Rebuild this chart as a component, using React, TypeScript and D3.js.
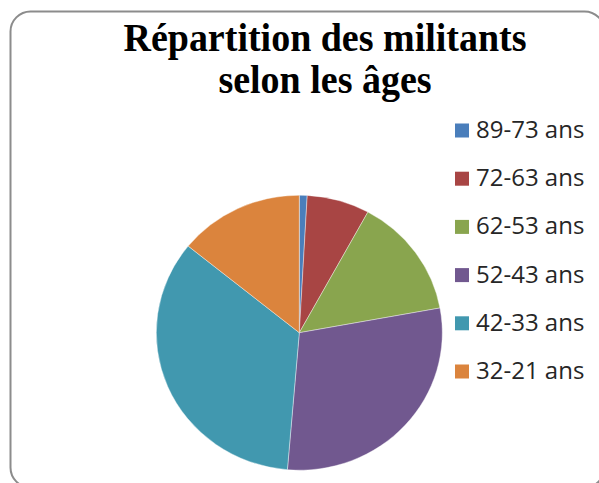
import React from "react";
import * as d3 from "d3";

const categories = ["89-73 ans", "72-63 ans", "62-53 ans", "52-43 ans", "42-33 ans", "32-21 ans"];
const values = [1, 8, 16, 33, 39, 16];
const colors = ["#4A7EBB", "#A84544", "#89A54E", "#71588F", "#4198AF", "#DB843D"];
const titleLines = ["Répartition des militants", "selon les âges"];

export default function App() {
  const W = 599, H = 483;
  const cx = 299.3, cy = 332.7, rx = 143, ry = 137.5;
  const pie = d3.pie<number>().sort(null).value((d) => d);
  const arcs = pie(values);
  const arc = d3.arc<d3.PieArcDatum<number>>().innerRadius(0).outerRadius(rx);
  const legendY = d3.scaleBand<string>().domain(categories).range([106.4, 395.6]);
  return (
    <svg width={W} height={H} style={{ position: "absolute", left: 0, top: 0, background: "#fff" }}>
      <rect x={10.5} y={11.5} width={594} height={476} rx={20} ry={20} fill="#fff" stroke="#8c8c8c" strokeWidth={2} />
      {titleLines.map((t, i) => (
        <text key={t} x={325} y={0} textAnchor="middle"
          transform={`translate(0,${51 + i * 42}) scale(1,1.06)`}
          style={{ fontFamily: "'Liberation Serif', 'Times New Roman', serif", fontWeight: "bold", fontSize: 38 }} fill="#000">
          {t}
        </text>
      ))}
      <g transform={`translate(${cx},${cy}) scale(1,${ry / rx})`}>
        {arcs.map((a, i) => (
          <path key={i} d={arc(a) || ""} fill={colors[i]} stroke="#ffffff" strokeOpacity={0.5} strokeWidth={0.8} />
        ))}
      </g>
      {categories.map((c, i) => {
        const yc = (legendY(c) || 0) + legendY.bandwidth() / 2;
        return (
          <g key={c}>
            <rect x={455} y={yc - 7} width={14} height={14} fill={colors[i]} />
            <text x={476} y={yc + 7.5} style={{ fontFamily: "'Open Sans', sans-serif", fontSize: 24 }} fill="#262626">
              {c}
            </text>
          </g>
        );
      })}
    </svg>
  );
}
